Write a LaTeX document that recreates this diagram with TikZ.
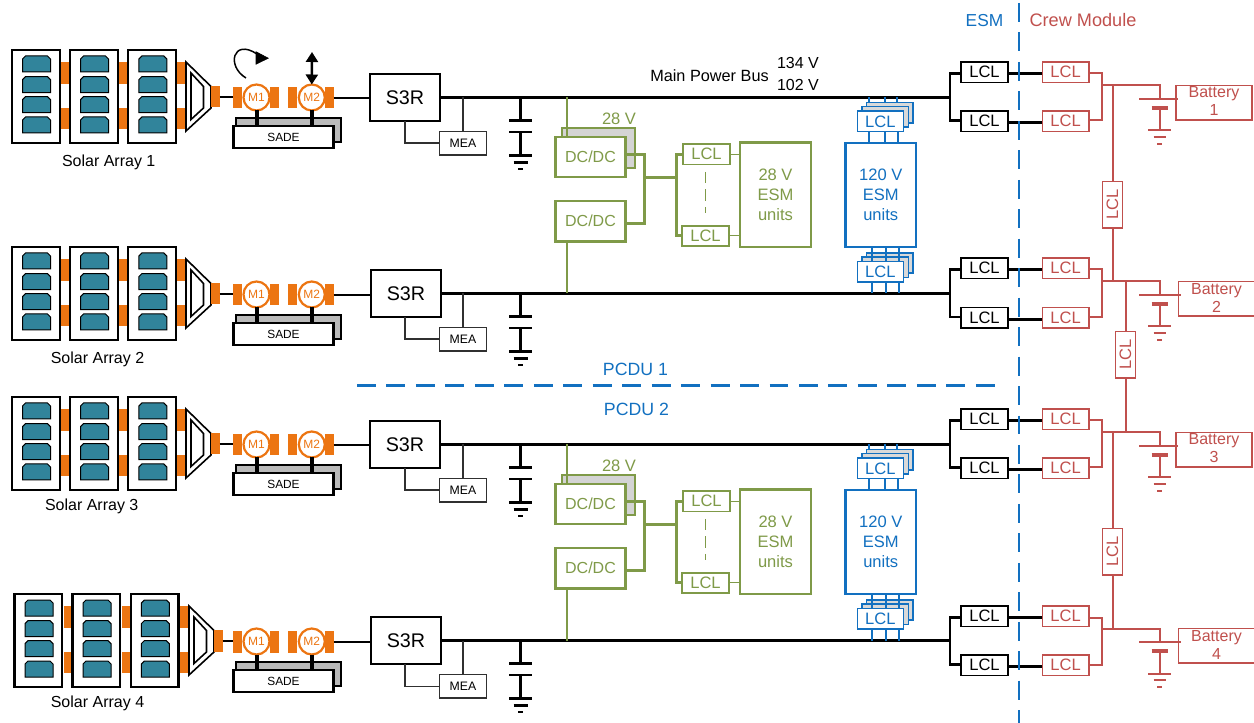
\documentclass[tikz,border=0pt]{standalone}
\usepackage{fontspec}
\setmainfont{Liberation Sans}
\usetikzlibrary{arrows.meta}
\definecolor{orng}{HTML}{EC7512}
\definecolor{teal1}{HTML}{31849B}
\definecolor{grn}{HTML}{7F9A48}
\definecolor{blu}{HTML}{1270C0}
\definecolor{redd}{HTML}{C0504D}
\definecolor{darkg}{HTML}{303030}
\tikzset{
  px/.style={line width=#1*0.75pt},
  bxbase/.style={inner sep=0pt,outer sep=0pt,align=center},
  orangepatch/.style={bxbase,fill=orng},
  panel/.style={bxbase,draw=black,fill=white,px=2.2},
  blackbox/.style={bxbase,draw=black,fill=white,px=2.2,font=\fontsize{14.8pt}{16pt}\selectfont},
  lclblack/.style={bxbase,draw=black,fill=white,px=1.8,font=\fontsize{12.4pt}{14pt}\selectfont},
  lclred/.style={bxbase,draw=redd,fill=white,px=1.4,text=redd,font=\fontsize{12.4pt}{14pt}\selectfont},
  lclgreen/.style={bxbase,draw=grn,fill=white,px=1.4,text=grn,font=\fontsize{12.4pt}{14pt}\selectfont},
  lclblue/.style={bxbase,draw=blu,fill=white,px=1.4,text=blu,font=\fontsize{12.4pt}{14pt}\selectfont},
  lclbackblue/.style={bxbase,draw=blu,fill=black!15,px=1.4},
  meabox/.style={bxbase,draw=darkg,fill=white,px=1.4,font=\fontsize{9.2pt}{11pt}\selectfont},
  sadebox/.style={bxbase,draw=black,fill=white,px=2.2,font=\fontsize{8.9pt}{11pt}\selectfont},
  sadeback/.style={bxbase,draw=black,fill=black!27,px=2.2},
  motor/.style={bxbase,circle,draw=orng,fill=white,px=2.2,text=orng,minimum size=26*0.75pt,font=\fontsize{9pt}{11pt}\selectfont},
  dcbox/.style={bxbase,draw=grn,fill=white,px=2.4,text=grn,font=\fontsize{12pt}{14pt}\selectfont},
  dcback/.style={bxbase,draw=grn,fill=black!17,px=2.4},
  esmgreen/.style={bxbase,draw=grn,fill=white,px=2.6,text=grn,font=\fontsize{12.4pt}{15pt}\selectfont},
  esmblue/.style={bxbase,draw=blu,fill=white,px=2.6,text=blu,font=\fontsize{12.4pt}{15pt}\selectfont},
  batbox/.style={bxbase,draw=redd,fill=white,px=1.4},
  txt/.style={bxbase,font=\fontsize{12pt}{13.5pt}\selectfont},
  wire/.style={px=2.2,draw=black},
  thinwire/.style={px=1.5,draw=darkg},
  greenwire/.style={px=2,draw=grn},
  greenbus/.style={px=2.8,draw=grn},
  bluewire/.style={px=1.4,draw=blu},
  redwire/.style={px=2,draw=redd},
  bounddash/.style={px=2.6,draw=blu,dash pattern=on 14.2pt off 7.9pt},
}
\newcommand{\bx}[7][]{%
  \pgfmathsetmacro\bxw{((#5)-(#3))*0.75}%
  \pgfmathsetmacro\bxh{((#6)-(#4))*0.75}%
  \pgfmathsetmacro\bxcx{((#3)+(#5))/2}%
  \pgfmathsetmacro\bxcy{((#4)+(#6))/2}%
  \node[#1,minimum width=\bxw pt,minimum height=\bxh pt] (#2) at (\bxcx,\bxcy) {#7};}
% chamfered solar cell: left x, top y
\newcommand{\solarcell}[2]{%
  \pgfmathsetmacro\cxa{#1}\pgfmathsetmacro\cya{#2}%
  \filldraw[fill=teal1,draw=black,px=1] (\cxa,\cya+16) -- (\cxa,\cya+3) -- (\cxa+3,\cya) -- (\cxa+25,\cya) -- (\cxa+28,\cya+3) -- (\cxa+28,\cya+16) -- cycle;}
% id, panel x offset, converter x offset, y offset, label x, label y, label
\newcommand{\leftrow}[7]{%
  \foreach \gx/\n in {61/a,119/b}{%
    \bx[orangepatch]{opa#1\n}{\gx+#2}{62+#4}{\gx+8.7+#2}{84+#4}{}
    \bx[orangepatch]{opb#1\n}{\gx+#2}{108+#4}{\gx+8.7+#2}{129+#4}{}
  }
  \bx[orangepatch]{opa#1c}{176+#2}{62+#4}{185+#2}{84+#4}{}
  \bx[orangepatch]{opb#1c}{176+#2}{108+#4}{185+#2}{129+#4}{}
  \foreach \gx/\n in {12/a,70/b,128.3/c}{%
    \bx[panel]{pan#1\n}{\gx+#2}{50+#4}{\gx+47.7+#2}{143+#4}{}
    \foreach \cy in {56,76.7,96.7,117}{\solarcell{\gx+10.5+#2}{\cy+#4}}
  }
  \filldraw[fill=white,draw=black,px=1.6] (186+#3,62+#4) -- (211+#3,86.5+#4) -- (211+#3,108+#4) -- (186+#3,131+#4) -- cycle;
  \draw[draw=black,px=1.6] (191+#3,73+#4) -- (203.5+#3,86.5+#4) -- (203.5+#3,108+#4) -- (191+#3,119.5+#4) -- cycle;
  \bx[orangepatch]{opc#1}{211+#3}{86+#4}{219.5+#3}{107.5+#4}{}
  \bx[orangepatch]{fl#1a}{233}{87+#4}{242}{108.5+#4}{}
  \bx[orangepatch]{fl#1b}{270}{87+#4}{279}{108.5+#4}{}
  \bx[orangepatch]{fl#1c}{288}{87+#4}{297}{108.5+#4}{}
  \bx[orangepatch]{fl#1d}{325}{87+#4}{333.5}{108.5+#4}{}
  \bx[sadeback]{sb#1}{236}{118+#4}{341}{142+#4}{}
  \bx[sadebox]{sade#1}{233.5}{126+#4}{333.5}{148+#4}{SADE}
  \node[motor] (mo#1) at (256.5,97.5+#4) {M1};
  \node[motor] (mt#1) at (311.8,97.5+#4) {M2};
  \draw[black,px=4] (mo#1.south) -- (mo#1.south |- sade#1.north);
  \draw[black,px=4] (mt#1.south) -- (mt#1.south |- sade#1.north);
  \draw[wire] (opc#1.east) -- (opc#1.east -| fl#1a.west);
  \node[txt] (lab#1) at (#5,#6+1.5) {#7};
}
% id, s3r left x, bus y
\newcommand{\midrow}[3]{%
  \coordinate (bus#1) at (950,#3);
  \bx[blackbox]{s#1}{#2}{#3-23.5}{#2+70}{#3+23.5}{S3R}
  \bx[meabox]{mea#1}{439.5}{#3+34}{486.3}{#3+57.5}{MEA}
  \draw[wire] (fl#1d.east) -- (fl#1d.east -| s#1.west);
  \draw[wire] (s#1.east) -- (bus#1);
  \draw[thinwire] (405,0 |- s#1.south) |- (mea#1.west);
  \draw[thinwire] (mea#1.north) -- (mea#1.north |- bus#1);
  \coordinate (cap#1) at (520.5,#3);
  \draw[black,px=2.4] (cap#1) -- ++(0,23);
  \draw[black,px=2.4] (cap#1) ++(-11.5,23) -- ++(23,0);
  \draw[black,px=2.4] (cap#1) ++(-11.5,34.5) -- ++(23,0);
  \draw[black,px=2.4] (cap#1) ++(0,34.5) -- ++(0,23.5);
  \draw[black,px=2.4] (cap#1) ++(-11.5,58) -- ++(23,0);
  \draw[black,px=2.2] (cap#1) ++(-7,65) -- ++(14,0);
  \draw[black,px=2.2] (cap#1) ++(-2.5,71.5) -- ++(5,0);
}
% id, group y offset, upper bus id, lower bus id
\newcommand{\esmgroup}[4]{%
  \bx[dcback]{dcb#1}{562}{128+#2}{635}{168+#2}{}
  \bx[dcbox]{dca#1}{555.5}{137+#2}{625.5}{177+#2}{DC/DC}
  \bx[dcbox]{dcc#1}{555.5}{201+#2}{625.5}{241.5+#2}{DC/DC}
  \node[txt,text=grn,font=\fontsize{12.4pt}{14pt}\selectfont] (tv#1) at (619,119+#2) {28 V};
  \draw[greenwire] (566.5,0 |- bus#3) -- (566.5,0 |- dca#1.north);
  \draw[greenwire] (567,0 |- dcc#1.south) -- (567,0 |- bus#4);
  \coordinate (gv#1) at (644.5,177.5+#2);
  \draw[greenbus] (dca#1.east |- 0,154.5+#2) -| (gv#1) |- (dcc#1.east |- 0,223.5+#2);
  \bx[lclgreen]{lga#1}{683}{144+#2}{730}{164.5+#2}{LCL}
  \bx[lclgreen]{lgb#1}{682}{226+#2}{729}{246+#2}{LCL}
  \bx[esmgreen]{eg#1}{740}{142.5+#2}{811}{247+#2}{28 V\\ESM\\units}
  \coordinate (gw#1) at (676.5,177.5+#2);
  \draw[greenbus] (gv#1) -- (gw#1);
  \draw[greenbus] (lga#1.west |- 0,154.5+#2) -| (gw#1);
  \draw[greenbus] (lgb#1.west |- 0,235.5+#2) -| (gw#1);
  \draw[px=1.4,draw=grn] (lga#1.east |- 0,154.5+#2) -- (eg#1.west |- 0,154.5+#2);
  \draw[px=1.4,draw=grn] (lgb#1.east |- 0,235.5+#2) -- (eg#1.west |- 0,235.5+#2);
  \draw[px=1.5,draw=grn,dash pattern=on 8.3pt off 4.8pt] (705.5,172+#2) -- (705.5,213+#2);
  \bx[esmblue]{eb#1}{845.5}{143+#2}{916}{247+#2}{120 V\\ESM\\units}
  % upper LCL stack
  \bx[lclbackblue]{uc#1}{866.5}{102.7+#2}{913}{123+#2}{}
  \bx[lclbackblue]{ub#1}{862}{106.7+#2}{908.3}{127+#2}{}
  \foreach \lx in {869,885,897}{\draw[bluewire] (\lx,0 |- bus#3) -- (\lx,0 |- uc#1.north);}
  \bx[lclblue]{ua#1}{857.3}{111+#2}{903.5}{131.7+#2}{LCL}
  \foreach \lx in {869,885,898}{\draw[bluewire] (\lx,0 |- ua#1.south) -- (\lx,0 |- eb#1.north);}
  % lower LCL stack
  \bx[lclbackblue]{lc#1}{866.5}{253+#2}{913}{273+#2}{}
  \bx[lclbackblue]{lb#1}{862}{257+#2}{908.3}{277.3+#2}{}
  \foreach \lx in {872,886,899}{\draw[bluewire] (\lx,0 |- eb#1.south) -- (\lx,262+#2);}
  \bx[lclblue]{la#1}{857.3}{261.7+#2}{903.5}{282+#2}{LCL}
  \foreach \lx in {872,886,899}{\draw[bluewire] (\lx,0 |- la#1.south) -- (\lx,0 |- bus#4);}
}
% id, top1, top2, line2 y, junction y, battery left x, battery text
\newcommand{\rightrow}[7]{%
  \bx[lclblack]{ka#1}{961}{#2}{1008}{#2+20.5}{LCL}
  \bx[lclblack]{kb#1}{961}{#3}{1008}{#3+20.5}{LCL}
  \bx[lclred]{ra#1}{1042.3}{#2}{1089}{#2+20.5}{LCL}
  \bx[lclred]{rb#1}{1042.3}{#3}{1089}{#3+20.5}{LCL}
  \draw[wire] (ka#1.west |- 0,#2+11.5) -| (bus#1) |- (kb#1.west |- 0,#3+9.5);
  \draw[wire] (ka#1.east |- 0,#2+11.5) -- (ra#1.west |- 0,#2+11.5);
  \draw[wire] (kb#1.east |- 0,#4) -- (rb#1.west |- 0,#4);
  \coordinate (rj#1) at (1101.5,#5);
  \draw[redwire] (ra#1.east |- 0,#2+11.5) -| (rj#1) |- (rb#1.east |- 0,#3+9.5);
  \coordinate (bt#1) at (1159.5,#5);
  \draw[redwire] (rj#1) -- (bt#1) -- ++(0,13.5);
  \bx[batbox]{bat#1}{#6}{#5}{#6+76}{#5+34.5}{}
  \node[txt,text=redd] (batl#1) at (#6+38,#5+16) {Battery\\#7};
  \draw[redwire] (bt#1) ++(-20.5,13.5) -- (#6+2,#5+13.5);
  \draw[redd,px=4.5] (bt#1) ++(-8,22.5) -- ++(16,0);
  \draw[redwire] (bt#1) ++(0,22.5) -- ++(0,22.5);
  \draw[redwire] (bt#1) ++(-11.5,45) -- ++(23,0);
  \draw[redwire] (bt#1) ++(-6,51.5) -- ++(12,0);
  \draw[redd,px=2] (bt#1) ++(-2.5,58.5) -- ++(5,0);
}
\begin{document}
\begin{tikzpicture}[x=0.75pt,y=-0.75pt]
\useasboundingbox (0,0) rectangle (1254,723);
\leftrow{1}{0}{0}{0}{108.7}{161}{Solar Array 1}
\leftrow{2}{0}{0}{197}{97.5}{358}{Solar Array 2}
\leftrow{3}{0}{0}{347}{91.7}{505}{Solar Array 3}
\leftrow{4}{2.5}{3}{544}{97.5}{702}{Solar Array 4}
\midrow{1}{370}{97.5}
\midrow{2}{371}{293.5}
\midrow{3}{370}{444.5}
\midrow{4}{371}{640.5}
\esmgroup{a}{0}{1}{2}
\esmgroup{b}{347}{3}{4}
\rightrow{1}{62}{111}{122.5}{85.5}{1176}{1}
\rightrow{2}{258}{307.5}{319.5}{281.5}{1178.5}{2}
\rightrow{3}{409}{458}{469.5}{432.5}{1176}{3}
\rightrow{4}{606}{655}{666.5}{628.5}{1178.5}{4}
% tie LCLs
\node[lclred,rotate=90,minimum width=46.5*0.75pt,minimum height=20*0.75pt] (ta) at (1112.5,204.7) {LCL};
\node[lclred,rotate=90,minimum width=46.5*0.75pt,minimum height=20*0.75pt] (tb) at (1125.5,354.8) {LCL};
\node[lclred,rotate=90,minimum width=46.5*0.75pt,minimum height=20*0.75pt] (tc) at (1112.5,551.8) {LCL};
\draw[redwire] (ta.east |- rj1) -- (ta.east);
\draw[redwire] (ta.west) -- (ta.west |- rj2);
\draw[redwire] (tb.east |- rj2) -- (tb.east);
\draw[redwire] (tb.west) -- (tb.west |- rj3);
\draw[redwire] (tc.east |- rj3) -- (tc.east);
\draw[redwire] (tc.west) -- (tc.west |- rj4);
% rotation and translation arrows
\coordinate (rota) at (246,78);
\coordinate (rotb) at (257,54);
\draw[black,px=1.5] (rota) .. controls (226,66) and (233,38) .. (rotb);
\filldraw[black] (256,51.7) -- (268.3,58.2) -- (256,64.3) -- cycle;
\coordinate (updn) at (312,52);
\draw[black,px=2.4,{Triangle[length=7.5pt,width=9pt]}-{Triangle[length=7.5pt,width=9pt]}] (updn) -- (mt1.north);
% labels
\node[txt,font=\fontsize{12.2pt}{14pt}\selectfont] (mpb) at (709.5,75.5) {Main Power Bus};
\node[txt] (vh) at (798,63) {134 V};
\node[txt] (vl) at (798,85) {102 V};
\node[txt,text=blu,font=\fontsize{13pt}{15pt}\selectfont] (esml) at (984.5,21) {ESM};
\node[txt,text=redd,font=\fontsize{13.6pt}{15pt}\selectfont] (crew) at (1083,20.5) {Crew Module};
\node[txt,text=blu,font=\fontsize{13.3pt}{15pt}\selectfont] (pa) at (635.5,369) {PCDU 1};
\node[txt,text=blu,font=\fontsize{13.3pt}{15pt}\selectfont] (pb) at (636.5,409) {PCDU 2};
% boundaries
\coordinate (vt) at (1019,3);
\coordinate (vb) at (1019,723);
\coordinate (hl) at (357,385.5);
\coordinate (hr) at (1000,385.5);
\draw[bounddash] (vt) -- (vb);
\draw[bounddash] (hl) -- (hr);
\end{tikzpicture}
\end{document}
